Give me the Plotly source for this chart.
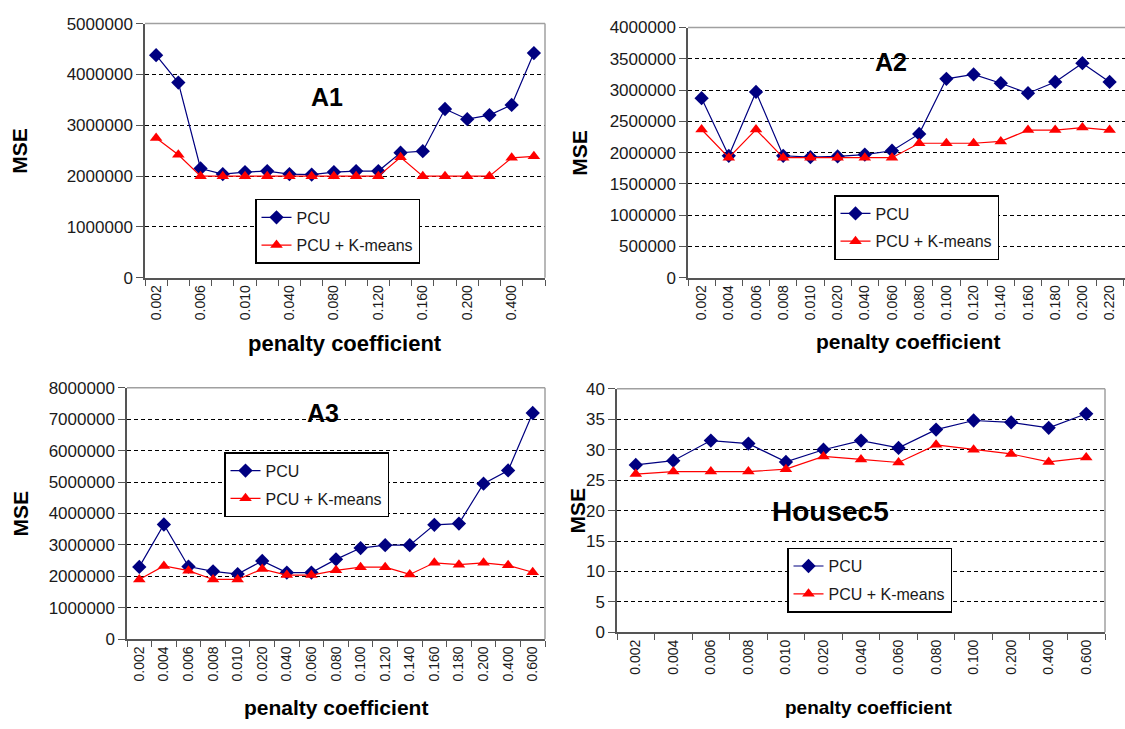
import plotly.graph_objects as go

W, H = 1125, 729

# ---- data -------------------------------------------------------------
a1_cats = ["0.002", "0.004", "0.006", "0.008", "0.010", "0.020", "0.040", "0.060", "0.080",
           "0.100", "0.120", "0.140", "0.160", "0.180", "0.200", "0.300", "0.400", "0.600"]
a1_pcu = [4380000, 3840000, 2150000, 2040000, 2080000, 2100000, 2040000, 2030000, 2080000,
          2100000, 2100000, 2460000, 2490000, 3320000, 3120000, 3200000, 3400000, 4420000]
a1_km = [2750000, 2420000, 2000000, 2000000, 2000000, 2000000, 2000000, 2000000, 2000000,
         2000000, 2000000, 2370000, 2000000, 2000000, 2000000, 2000000, 2360000, 2390000]
a1_ticks = ["0.002", "0.006", "0.010", "0.040", "0.080", "0.120", "0.160", "0.200", "0.400"]

a2_cats = ["0.002", "0.004", "0.006", "0.008", "0.010", "0.020", "0.040", "0.060",
           "0.080", "0.100", "0.120", "0.140", "0.160", "0.180", "0.200", "0.220"]
a2_pcu = [2870000, 1950000, 2970000, 1950000, 1930000, 1940000, 1970000, 2030000,
          2300000, 3180000, 3250000, 3110000, 2950000, 3130000, 3430000, 3130000]
a2_km = [2370000, 1920000, 2370000, 1920000, 1920000, 1920000, 1920000, 1920000,
         2150000, 2150000, 2150000, 2180000, 2360000, 2360000, 2400000, 2360000]

a3_cats = ["0.002", "0.004", "0.006", "0.008", "0.010", "0.020", "0.040", "0.060", "0.080",
           "0.100", "0.120", "0.140", "0.160", "0.180", "0.200", "0.400", "0.600"]
a3_pcu = [2300000, 3650000, 2310000, 2160000, 2070000, 2490000, 2120000, 2120000, 2540000,
          2900000, 2990000, 2990000, 3640000, 3680000, 4950000, 5370000, 7200000]
a3_km = [1900000, 2330000, 2180000, 1900000, 1900000, 2230000, 2040000, 2040000, 2190000,
         2290000, 2290000, 2060000, 2430000, 2370000, 2430000, 2350000, 2130000]

h5_cats = ["0.002", "0.004", "0.006", "0.008", "0.010", "0.020", "0.040",
           "0.060", "0.080", "0.100", "0.200", "0.400", "0.600"]
h5_pcu = [27.5, 28.2, 31.5, 31.0, 28.0, 30.0, 31.5, 30.3, 33.3, 34.8, 34.5, 33.6, 35.9]
h5_km = [26.0, 26.4, 26.4, 26.4, 26.8, 28.9, 28.4, 27.9, 30.8, 30.0, 29.3, 28.0, 28.7]

series_names = ["PCU", "PCU + K-means"]

# ---- style ------------------------------------------------------------
FONT = "Liberation Sans, Arial, sans-serif"
NAVY = "#000080"
RED = "#FF0000"
TXT = "#1a1a1a"


def px_x(x):
    return x / W


def px_y(y):
    return 1 - y / H


# panel boxes in pixels: left, right, top, bottom
panels = [
    dict(key="1", box=(145, 545, 15, 276), cats=a1_cats, pcu=a1_pcu, km=a1_km, ticks=a1_ticks,
         yr=(0, 5000000), dtick=1000000, title="A1", tpos=(327, 90), tfs=25,
         leg=(255, 195), mse_x=20, xt=(345, 343, 22), right_clip=False),
    dict(key="2", box=(688, 1125, 19, 276), cats=a2_cats, pcu=a2_pcu, km=a2_km, ticks=a2_cats,
         yr=(0, 4000000), dtick=500000, title="A2", tpos=(891, 54), tfs=25,
         leg=(834, 191), mse_x=580, xt=(908, 341, 21), right_clip=True),
    dict(key="3", box=(127, 545, 389, 647), cats=a3_cats, pcu=a3_pcu, km=a3_km, ticks=a3_cats,
         yr=(0, 8000000), dtick=1000000, title="A3", tpos=(323, 415), tfs=25,
         leg=(224, 455), mse_x=20, xt=(336, 717, 21), right_clip=False),
    dict(key="4", box=(617, 1105, 390, 640), cats=h5_cats, pcu=h5_pcu, km=h5_km, ticks=h5_cats,
         yr=(0, 40), dtick=5, title="Housec5", tpos=(830, 516), tfs=28,
         leg=(787, 553), mse_x=578, xt=(868, 717, 19), right_clip=False),
]

fig = go.Figure()
layout = dict(
    width=W, height=H, margin=dict(l=0, r=0, t=0, b=0),
    paper_bgcolor="white", plot_bgcolor="white",
    font=dict(family=FONT, color=TXT),
    shapes=[], annotations=[],
)

for i, p in enumerate(panels):
    k = p["key"]
    xa = "xaxis" if i == 0 else f"xaxis{k}"
    ya = "yaxis" if i == 0 else f"yaxis{k}"
    xref = "x" if i == 0 else f"x{k}"
    yref = "y" if i == 0 else f"y{k}"
    leg = "legend" if i == 0 else f"legend{k}"
    l, r, t, b = p["box"]
    n = len(p["cats"])
    idx = list(range(n))

    fig.add_trace(go.Scatter(
        x=idx, y=p["pcu"], name=series_names[0], mode="lines+markers",
        line=dict(color=NAVY, width=1.2),
        marker=dict(symbol="diamond", size=11, color=NAVY),
        xaxis=xref, yaxis=yref, legend=leg, legendgroup=f"{k}a", cliponaxis=False))
    fig.add_trace(go.Scatter(
        x=idx, y=p["km"], name=series_names[1], mode="lines+markers",
        line=dict(color=RED, width=1.2),
        marker=dict(symbol="triangle-up", size=11, color=RED),
        xaxis=xref, yaxis=yref, legend=leg, legendgroup=f"{k}b", cliponaxis=False))

    if p["right_clip"]:
        # last category sits just inside the page edge
        cw = 27.2
        xr = [-0.5, (r - l) / cw - 0.5]
    else:
        xr = [-0.5, n - 0.5]

    tickpos = [p["cats"].index(c) for c in p["ticks"]]
    layout[xa] = dict(
        domain=[px_x(l), px_x(r)], anchor=yref, range=xr, showgrid=False, zeroline=False,
        showline=True, linecolor="#555555", linewidth=1.5,
        tickmode="array", tickvals=tickpos, ticktext=p["ticks"], ticks="",
        tickangle=-90, tickfont=dict(size=14, color=TXT, family=FONT),
        minor=dict(tickmode="array", tickvals=[j - 0.5 for j in range(n + 1)],
                   ticks="outside", ticklen=6, tickcolor="#555555", tickwidth=1.2),
    )
    layout[ya] = dict(
        domain=[px_y(b), px_y(t)], anchor=xref, range=list(p["yr"]), dtick=p["dtick"],
        tickformat="d", showgrid=True, gridcolor="black", gridwidth=1.3, griddash="4px,3px",
        zeroline=False, showline=True, linecolor="#555555", linewidth=1.5,
        ticks="outside", ticklen=7, tickcolor="#555555", tickwidth=1.2,
        tickfont=dict(size=17, color=TXT, family=FONT),
    )

    # top / right frame of the plot area
    layout["shapes"].append(dict(type="line", xref="paper", yref="paper",
                                 x0=px_x(l), x1=px_x(r), y0=px_y(t), y1=px_y(t),
                                 line=dict(color="#a0a0a0", width=1.5), layer="above"))
    if not p["right_clip"]:
        layout["shapes"].append(dict(type="line", xref="paper", yref="paper",
                                     x0=px_x(r), x1=px_x(r), y0=px_y(t), y1=px_y(b),
                                     line=dict(color="#a0a0a0", width=1.5), layer="above"))

    # panel title
    layout["annotations"].append(dict(
        text=f"<b>{p['title']}</b>", x=px_x(p["tpos"][0]), y=px_y(p["tpos"][1]),
        xref="paper", yref="paper", showarrow=False, xanchor="center", yanchor="middle",
        font=dict(size=p["tfs"], color="black", family=FONT)))
    # axis titles
    layout["annotations"].append(dict(
        text="<b>MSE</b>", x=px_x(p["mse_x"]), y=px_y((t + b) / 2), xref="paper", yref="paper",
        showarrow=False, textangle=-90, xanchor="center", yanchor="middle",
        font=dict(size=21, color="black", family=FONT)))
    xt_x, xt_y, xt_fs = p["xt"]
    layout["annotations"].append(dict(
        text="<b>penalty coefficient</b>", x=px_x(xt_x), y=px_y(xt_y),
        xref="paper", yref="paper", showarrow=False, xanchor="center", yanchor="middle",
        font=dict(size=xt_fs, color="black", family=FONT)))

    layout[leg] = dict(
        x=px_x(p["leg"][0]), y=px_y(p["leg"][1]), xanchor="left", yanchor="top",
        bgcolor="white", bordercolor="black", borderwidth=1.5,
        font=dict(size=16, color=TXT, family=FONT), tracegroupgap=4,
    )

fig.update_layout(**layout)
fig.write_html("out.html")
